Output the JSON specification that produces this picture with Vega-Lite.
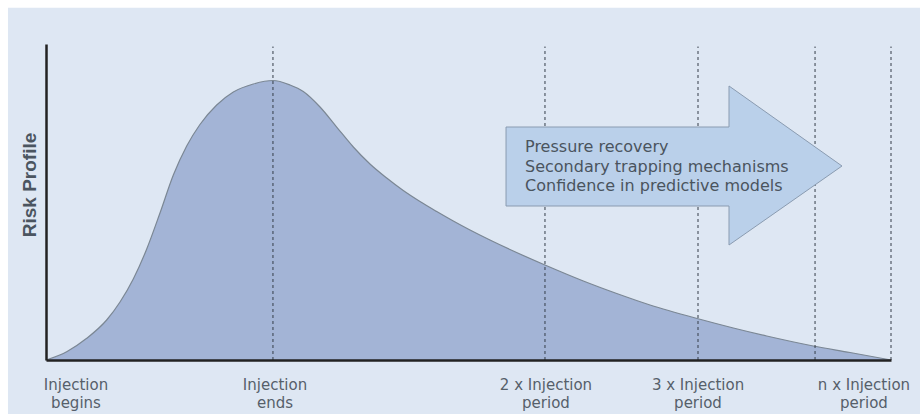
{
  "$schema": "https://vega.github.io/schema/vega-lite/v6.json",
  "width": 845,
  "height": 316,
  "autosize": {"type": "none"},
  "padding": {"left": 46, "top": 44, "right": 29, "bottom": 54},
  "background": "white",
  "config": {
    "view": {"stroke": null},
    "axis": {"domainColor": "#222222", "domainWidth": 2.5, "ticks": false, "labels": false, "grid": false}
  },
  "datasets": {
    "curve": [
      {"t": 0, "risk": 0}, {"t": 2.45, "risk": 2.63}, {"t": 4.82, "risk": 6.87}, {"t": 7.18, "risk": 12.66},
      {"t": 8.76, "risk": 18.35}, {"t": 10.33, "risk": 25.63}, {"t": 11.92, "risk": 35.13}, {"t": 13.49, "risk": 46.52},
      {"t": 15.07, "risk": 58.54}, {"t": 16.65, "risk": 67.72}, {"t": 18.22, "risk": 74.53}, {"t": 20.2, "risk": 80.7},
      {"t": 22.17, "risk": 84.81}, {"t": 24.53, "risk": 87.34}, {"t": 26.86, "risk": 88.45}, {"t": 28.88, "risk": 87.03},
      {"t": 30.45, "risk": 84.97}, {"t": 32.43, "risk": 80.06}, {"t": 34.4, "risk": 73.73}, {"t": 36.37, "risk": 67.41},
      {"t": 38.34, "risk": 62.03}, {"t": 40.32, "risk": 57.59}, {"t": 42.28, "risk": 53.64}, {"t": 44.26, "risk": 50.16},
      {"t": 46.24, "risk": 46.99}, {"t": 48.2, "risk": 43.99}, {"t": 50.18, "risk": 41.14}, {"t": 52.54, "risk": 37.97},
      {"t": 54.91, "risk": 34.97}, {"t": 59.05, "risk": 30.06}, {"t": 63.59, "risk": 25.0}, {"t": 67.54, "risk": 21.04},
      {"t": 71.48, "risk": 17.41}, {"t": 77.28, "risk": 12.97}, {"t": 81.34, "risk": 10.13}, {"t": 85.29, "risk": 7.59},
      {"t": 90.8, "risk": 4.43}, {"t": 95.15, "risk": 2.37}, {"t": 100, "risk": 0}
    ],
    "periods": [{"t": 26.86}, {"t": 59.05}, {"t": 77.16}, {"t": 91.01}, {"t": 100}],
    "labels": [
      {"label": "Injection\nbegins", "t": 3.55},
      {"label": "Injection\nends", "t": 27.1},
      {"label": "2 x Injection\nperiod", "t": 59.17},
      {"label": "3 x Injection\nperiod", "t": 77.16},
      {"label": "n x Injection\nperiod", "t": 96.8}
    ],
    "arrow": [
      {"t": 54.44, "top": 73.73, "bottom": 48.73},
      {"t": 80.83, "top": 73.73, "bottom": 48.73},
      {"t": 80.83, "top": 86.71, "bottom": 36.39},
      {"t": 94.2, "top": 61.39, "bottom": 61.39}
    ]
  },
  "layer": [
    {
      "data": {"values": [{}]},
      "mark": {"type": "rect", "color": "#dee7f3"},
      "encoding": {
        "x": {"datum": -4.5, "type": "quantitative", "scale": {"domain": [0, 100], "nice": false, "zero": false}, "axis": {"title": null, "zindex": 1}},
        "x2": {"datum": 103.5},
        "y": {"datum": -17.2, "type": "quantitative", "scale": {"domain": [0, 100], "nice": false, "zero": false}, "axis": {"title": null, "zindex": 1}},
        "y2": {"datum": 111.5}
      }
    },
    {
      "data": {"name": "curve"},
      "mark": {"type": "area", "color": "#a3b4d6", "opacity": 1, "interpolate": "monotone", "line": {"color": "#7b8794", "strokeWidth": 1.2}},
      "encoding": {
        "x": {"field": "t", "type": "quantitative", "axis": {"title": null, "zindex": 1}},
        "y": {"field": "risk", "type": "quantitative", "axis": {"title": null, "zindex": 1}}
      }
    },
    {
      "data": {"name": "periods"},
      "mark": {"type": "rule", "color": "#343d48", "strokeWidth": 1, "strokeDash": [3, 3]},
      "encoding": {
        "x": {"field": "t", "type": "quantitative", "axis": {"title": null, "zindex": 1}},
        "y": {"datum": 0, "type": "quantitative", "axis": {"title": null, "zindex": 1}},
        "y2": {"datum": 99.2}
      }
    },
    {
      "data": {"name": "arrow"},
      "mark": {"type": "area", "color": "#bad0ea", "opacity": 1, "stroke": "#8a9bb0", "strokeWidth": 1},
      "encoding": {
        "x": {"field": "t", "type": "quantitative", "axis": {"title": null, "zindex": 1}},
        "y": {"field": "top", "type": "quantitative", "axis": {"title": null, "zindex": 1}},
        "y2": {"field": "bottom"}
      }
    },
    {
      "data": {"values": [{}]},
      "mark": {"type": "text", "text": ["Pressure recovery", "Secondary trapping mechanisms", "Confidence in predictive models"], "align": "left", "baseline": "alphabetic", "font": "DejaVu Sans", "fontSize": 16, "lineHeight": 19.4, "color": "#4a545e"},
      "encoding": {
        "x": {"datum": 56.69, "type": "quantitative", "axis": {"title": null, "zindex": 1}},
        "y": {"datum": 65.73, "type": "quantitative", "axis": {"title": null, "zindex": 1}}
      }
    },
    {
      "data": {"name": "labels"},
      "mark": {"type": "text", "align": "center", "baseline": "alphabetic", "lineBreak": "\n", "font": "DejaVu Sans", "fontSize": 15, "lineHeight": 17.5, "color": "#565f6a"},
      "encoding": {
        "x": {"field": "t", "type": "quantitative", "axis": {"title": null, "zindex": 1}},
        "y": {"datum": -9.65, "type": "quantitative", "axis": {"title": null, "zindex": 1}},
        "text": {"field": "label"}
      }
    },
    {
      "data": {"values": [{}]},
      "mark": {"type": "text", "text": "Risk Profile", "angle": 270, "align": "center", "baseline": "middle", "font": "Liberation Sans", "fontWeight": "bold", "fontSize": 19, "color": "#4b5560"},
      "encoding": {
        "x": {"datum": -1.89, "type": "quantitative", "axis": {"title": null, "zindex": 1}},
        "y": {"datum": 55.38, "type": "quantitative", "axis": {"title": null, "zindex": 1}}
      }
    }
  ]
}
